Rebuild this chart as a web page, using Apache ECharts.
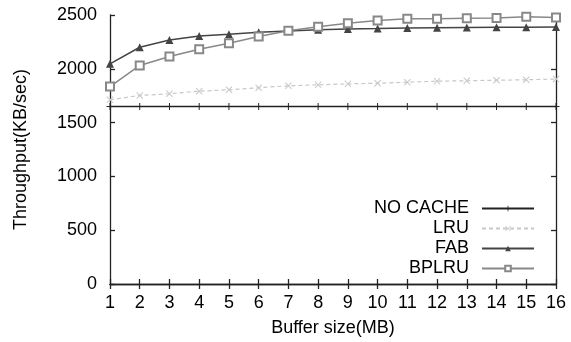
<!DOCTYPE html>
<html>
<head>
<meta charset="utf-8">
<script src="https://cdn.jsdelivr.net/npm/echarts@6/dist/echarts.min.js"></script>
<style>
html,body{margin:0;padding:0;background:#fff;}
#chart{width:571px;height:342px;}
</style>
</head>
<body>
<div id="chart"></div>
<script>
var bufferSizes = [1,2,3,4,5,6,7,8,9,10,11,12,13,14,15,16];
var noCache = [1650,1650,1650,1650,1650,1650,1650,1650,1650,1650,1650,1650,1650,1650,1650,1650];
var lru = [1712,1752,1768,1792,1805,1824,1842,1851,1860,1866,1875,1885,1889,1894,1898,1905];
var fab = [2046,2200,2268,2305,2322,2340,2352,2362,2370,2374,2380,2382,2384,2386,2386,2388];
var bplru = [1835,2031,2114,2182,2238,2300,2353,2390,2424,2449,2465,2466,2470,2472,2483,2477];
var yTicks = [0,500,1000,1500,2000,2500];

function pairs(v){ return bufferSizes.map(function(x,i){ return [x, v[i]]; }); }

var FONT = 'Liberation Sans';
var FS = 18;
var PLUS = 'path://M4.3,0H5.7V4.3H10V5.7H5.7V10H4.3V5.7H0V4.3H4.3Z';
var CROSS = 'path://M1,0L5,4L9,0L10,1L6,5L10,9L9,10L5,6L1,10L0,9L4,5L0,1Z';

var axisLine = {show:true, lineStyle:{color:'#222', width:1.3}};
var tick = {show:true, inside:true, length:5, lineStyle:{color:'#222', width:1.3}};

var chart = echarts.init(document.getElementById('chart'), null, {renderer:'canvas'});
chart.setOption({
  animation:false,
  backgroundColor:'#fff',
  textStyle:{fontFamily:FONT},
  grid:{left:110, right:15, top:15, bottom:58},
  legend:{
    orient:'vertical', right:31, top:194, align:'right',
    itemWidth:52, itemHeight:7, itemGap:1,
    textStyle:{fontFamily:FONT, fontSize:FS, lineHeight:19, color:'#000', padding:[0,8,0,0]},
    data:['NO CACHE','LRU','FAB','BPLRU']
  },
  xAxis:[{
    type:'value', min:1, max:16, interval:1, position:'bottom',
    name:'Buffer size(MB)', nameLocation:'middle', nameGap:35,
    nameTextStyle:{fontFamily:FONT, fontSize:FS, color:'#000'},
    axisLine:axisLine, axisTick:tick, splitLine:{show:false},
    axisLabel:{fontFamily:FONT, fontSize:FS, color:'#000', margin:10}
  },{
    type:'value', min:1, max:16, interval:1, position:'top',
    axisLine:axisLine, axisTick:tick, splitLine:{show:false}, axisLabel:{show:false}
  }],
  yAxis:[{
    type:'value', min:yTicks[0], max:yTicks[yTicks.length-1], interval:500, position:'left',
    name:'Throughput(KB/sec)', nameLocation:'middle', nameGap:80,
    nameTextStyle:{fontFamily:FONT, fontSize:FS, color:'#000'},
    axisLine:axisLine, axisTick:tick, splitLine:{show:false},
    axisLabel:{fontFamily:FONT, fontSize:FS, color:'#000', margin:13, formatter:function(v){return String(v);}}
  },{
    type:'value', min:yTicks[0], max:yTicks[yTicks.length-1], interval:500, position:'right',
    axisLine:axisLine, axisTick:tick, splitLine:{show:false}, axisLabel:{show:false}
  }],
  series:[
    {name:'NO CACHE', type:'line', data:pairs(noCache), symbol:PLUS, symbolSize:7,
     lineStyle:{color:'#222', width:1.5}, itemStyle:{color:'#222'}, z:3},
    {name:'LRU', type:'line', data:pairs(lru), symbol:CROSS, symbolSize:7,
     lineStyle:{color:'#c8c8c8', width:1.2, type:[4,3]}, itemStyle:{color:'#c8c8c8'}, z:2},
    {name:'FAB', type:'line', data:pairs(fab), symbol:'triangle', symbolSize:8,
     lineStyle:{color:'#444', width:1.5}, itemStyle:{color:'#444'}, z:4},
    {name:'BPLRU', type:'line', data:pairs(bplru), symbol:'emptyRect', symbolSize:8,
     lineStyle:{color:'#888', width:1.5}, itemStyle:{color:'#888', borderWidth:1.3}, z:5}
  ]
});
</script>
</body>
</html>
